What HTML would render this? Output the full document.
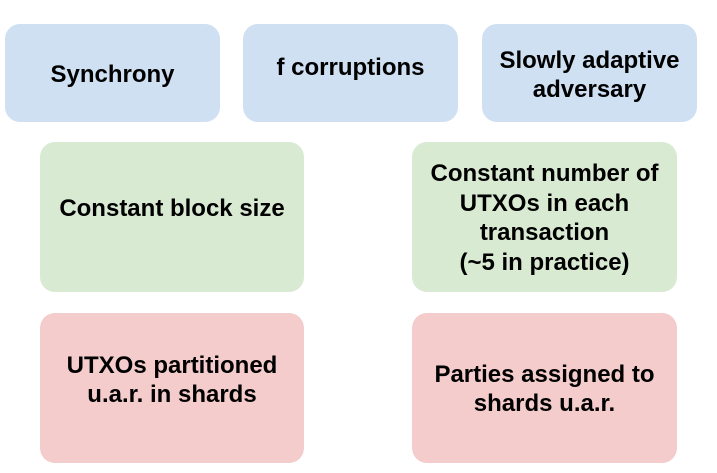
<!DOCTYPE html>
<html><head><style>
body{margin:0;width:717px;height:473px;background:#fff;position:relative;overflow:hidden;font-family:"Liberation Sans",Arial,sans-serif;}
.b{position:absolute;border-radius:15px;display:flex;align-items:center;justify-content:center;text-align:center;font-weight:bold;font-size:24px;line-height:29.5px;color:#000;box-sizing:border-box;}
.bl{background:#cfe0f2;}.g{background:#d9ead3;}.r{background:#f4cccc;}
</style></head><body>
<div class="b bl" style="left:5px;top:24px;width:215px;height:98px;padding-top:3px;">Synchrony</div>
<div class="b bl" style="left:243px;top:24px;width:215px;height:98px;padding-bottom:10px;">f corruptions</div>
<div class="b bl" style="left:482px;top:24px;width:215px;height:98px;padding-top:4px;">Slowly adaptive<br>adversary</div>
<div class="b g" style="left:40px;top:142px;width:264px;height:150px;padding-bottom:16px;">Constant block size</div>
<div class="b g" style="left:412px;top:142px;width:265px;height:150px;padding-top:2px;">Constant number of<br>UTXOs in each<br>transaction<br>(~5 in practice)</div>
<div class="b r" style="left:40px;top:313px;width:264px;height:150px;padding-bottom:16px;">UTXOs partitioned<br>u.a.r. in shards</div>
<div class="b r" style="left:412px;top:313px;width:265px;height:150px;padding-top:2px;">Parties assigned to<br>shards u.a.r.</div>
</body></html>
